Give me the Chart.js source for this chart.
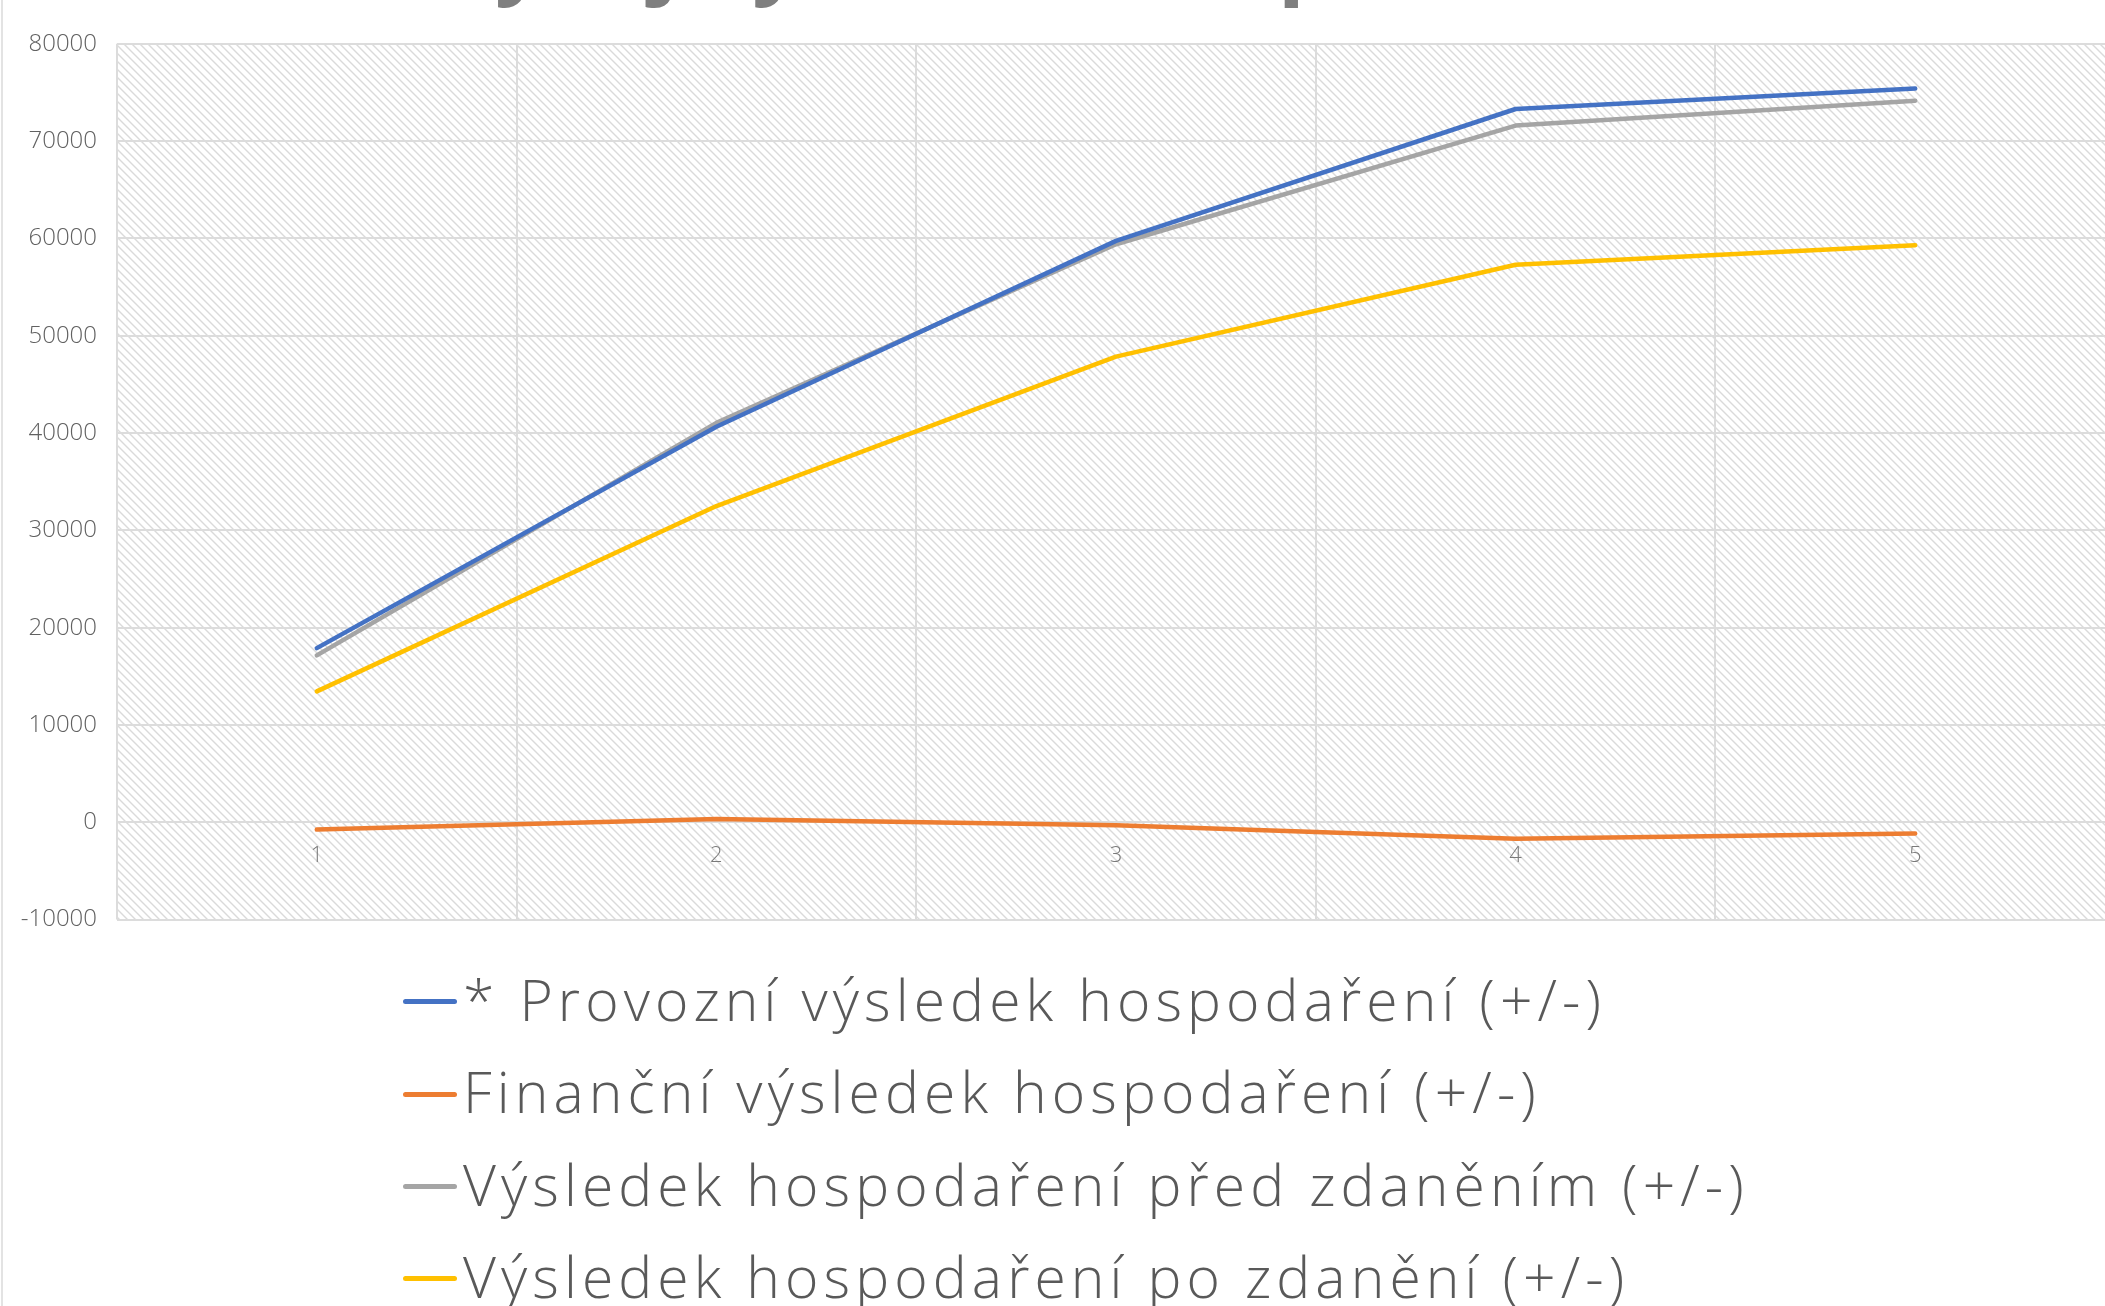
<!DOCTYPE html>
<html>
<head>
<meta charset="utf-8">
<script src="https://cdn.jsdelivr.net/npm/chart.js@4"></script>
<style>
    body { margin: 0; width: 2105px; height: 1306px; overflow: hidden; background: #fff; position: relative; }
    #wrap { position: absolute; left: 0; top: -96px; }
    #frame { position: absolute; left: 1px; top: 0; width: 2px; height: 1306px; background: #e3e3e3; }
    #legend { position: absolute; left: 403px; top: 953px; font-family: "Open Sans", sans-serif; font-weight: 300; font-size: 57px; color: #595959; letter-spacing: 5.1px; }
    #legend .row { height: 92.3px; line-height: 92.3px; white-space: nowrap; }
    #legend .swatch { display: inline-block; width: 54px; height: 5px; border-radius: 3px; vertical-align: middle; margin-right: 6px; position: relative; top: -4px; }
</style>
</head>
<body>
<div id="frame"></div>
<div id="wrap"><canvas id="chart" width="2165" height="1050"></canvas></div>
<div id="legend"></div>
<script>
// categories (years 1-5)
const labels = ['1', '2', '3', '4', '5'];

// series values
const provozni = [17900, 40650, 59750, 73300, 75400];
const financni = [-750, 350, -300, -1680, -1160];
const predZdanenim = [17150, 41050, 59400, 71600, 74150];
const poZdaneni = [13450, 32500, 47850, 57300, 59300];

const seriesNames = [
    '* Provozní výsledek hospodaření (+/-)',
    'Finanční výsledek hospodaření (+/-)',
    'Výsledek hospodaření před zdaněním (+/-)',
    'Výsledek hospodaření po zdanění (+/-)'
];
const seriesColors = ['#4472C4', '#ED7D31', '#A5A5A5', '#FFC000'];

// y axis range
const yMin = -10000;
const yMax = 80000;
const yStep = 10000;

// diagonal hatch used as plot area background
function makeHatch() {
    const tile = document.createElement('canvas');
    tile.width = 8;
    tile.height = 8;
    const c = tile.getContext('2d');
    c.fillStyle = '#ffffff';
    c.fillRect(0, 0, 8, 8);
    c.strokeStyle = '#dadada';
    c.lineWidth = 1.4;
    c.beginPath();
    c.moveTo(-2, -2); c.lineTo(10, 10);
    c.moveTo(-10, -2); c.lineTo(2, 10);
    c.moveTo(6, -2); c.lineTo(18, 10);
    c.stroke();
    return tile;
}

const plotBackground = {
    id: 'plotBackground',
    beforeDraw(chart) {
        const { ctx, chartArea } = chart;
        ctx.save();
        ctx.fillStyle = ctx.createPattern(makeHatch(), 'repeat');
        ctx.fillRect(chartArea.left, chartArea.top, chartArea.right - chartArea.left, chartArea.bottom - chartArea.top);
        ctx.restore();
    }
};

const values = [provozni, financni, predZdanenim, poZdaneni];

const ctx = document.getElementById('chart').getContext('2d');
const chart = new Chart(ctx, {
    type: 'line',
    data: {
        labels: labels,
        datasets: values.map((data, i) => ({
            label: seriesNames[i],
            data: data,
            borderColor: seriesColors[i],
            backgroundColor: seriesColors[i],
            borderWidth: 4.5,
            borderCapStyle: 'round',
            borderJoinStyle: 'round',
            pointRadius: 0,
            tension: 0
        }))
    },
    options: {
        responsive: false,
        animation: false,
        devicePixelRatio: 1,
        layout: {
            // right side runs past the window, as in the original
            padding: { left: 0, right: 50, top: 0, bottom: 20 }
        },
        scales: {
            x: {
                position: { y: 0 },
                offset: true,
                grid: { offset: true, color: '#dcdcdc', lineWidth: 2, drawTicks: false },
                border: { display: false },
                ticks: {
                    padding: 20,
                    color: '#7a7a7a',
                    font: { family: 'Open Sans', size: 22, weight: 300 }
                }
            },
            y: {
                min: yMin,
                max: yMax,
                afterFit(scale) { scale.width = 117; },
                grid: { color: '#dcdcdc', lineWidth: 2, drawTicks: false },
                border: { display: false },
                ticks: {
                    stepSize: yStep,
                    padding: 20,
                    color: '#616161',
                    font: { family: 'Open Sans', size: 24, weight: 300 },
                    callback: v => String(v)
                }
            }
        },
        plugins: {
            legend: { display: false },
            tooltip: { enabled: false },
            title: {
                display: true,
                text: 'Vývoj výsledku hospodaření',
                color: '#7f7f7f',
                font: { family: 'Open Sans', size: 89, weight: 'bold', lineHeight: 1.2 },
                padding: { top: 3, bottom: 30 }
            }
        }
    },
    plugins: [plotBackground]
});

// legend as one row per series, built from the datasets
const legendBox = document.getElementById('legend');
chart.data.datasets.forEach(ds => {
    const row = document.createElement('div');
    row.className = 'row';
    const sw = document.createElement('span');
    sw.className = 'swatch';
    sw.style.background = ds.borderColor;
    row.appendChild(sw);
    row.appendChild(document.createTextNode(ds.label));
    legendBox.appendChild(row);
});
</script>
</body>
</html>
